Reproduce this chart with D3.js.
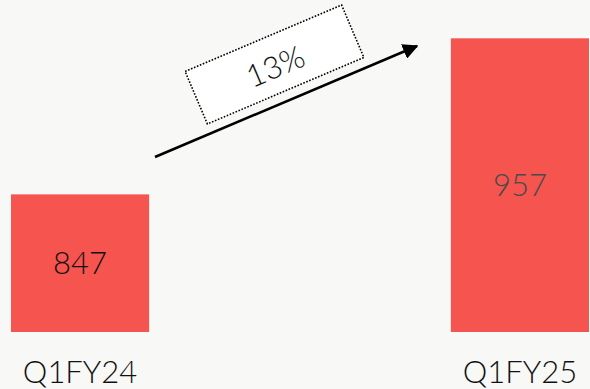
<!DOCTYPE html>
<html>
<head>
<meta charset="utf-8">
<script src="https://cdn.jsdelivr.net/npm/d3@7"></script>
<style>
  html, body { margin: 0; padding: 0; background: #f8f8f6; }
  svg { display: block; }
  text { font-family: Lato, "Open Sans", sans-serif; font-weight: 300; }
</style>
</head>
<body>
<div id="chart"></div>
<script>
// Quarterly values shown as two bars with a growth arrow between them
const categories = ["Q1FY24", "Q1FY25"];
const values = [847, 957];
const valueColors = ["#111111", "#4a4a4a"];
const growthLabel = "13%";

const width = 590;
const height = 389;

const svg = d3.select("#chart")
  .append("svg")
  .attr("width", width)
  .attr("height", height);

svg.append("rect")
  .attr("width", width)
  .attr("height", height)
  .attr("fill", "#f8f8f6");

const x = d3.scaleBand()
  .domain(categories)
  .range([11, 589])
  .paddingInner(0.686)
  .paddingOuter(0);

// axis does not start at zero in the original
const y = d3.scaleLinear()
  .domain([750, 984])
  .range([332, 0]);

svg.selectAll("rect.bar")
  .data(values)
  .join("rect")
  .attr("class", "bar")
  .attr("x", (d, i) => x(categories[i]))
  .attr("y", d => y(d))
  .attr("width", x.bandwidth())
  .attr("height", d => y(750) - y(d))
  .attr("fill", "#f5544f");

svg.selectAll("text.value")
  .data(values)
  .join("text")
  .attr("class", "value")
  .attr("x", (d, i) => x(categories[i]) + x.bandwidth() / 2)
  .attr("y", d => (y(d) + y(750)) / 2)
  .attr("dy", "0.36em")
  .attr("text-anchor", "middle")
  .attr("font-size", 31)
  .attr("fill", (d, i) => valueColors[i])
  .text(d => d);

svg.selectAll("text.cat")
  .data(categories)
  .join("text")
  .attr("class", "cat")
  .attr("x", d => x(d) + x.bandwidth() / 2)
  .attr("y", 383)
  .attr("text-anchor", "middle")
  .attr("font-size", 31)
  .attr("fill", "#111")
  .text(d => d);

// growth arrow + dotted label box
const defs = svg.append("defs");
defs.append("marker")
  .attr("id", "arrowhead")
  .attr("viewBox", "0 0 10 10")
  .attr("refX", 9)
  .attr("refY", 5)
  .attr("markerWidth", 6)
  .attr("markerHeight", 6)
  .attr("markerUnits", "strokeWidth")
  .attr("orient", "auto")
  .append("path")
  .attr("d", "M0,0 L10,5 L0,10 Z")
  .attr("fill", "#000");

svg.append("line")
  .attr("x1", 155)
  .attr("y1", 157)
  .attr("x2", 417)
  .attr("y2", 46)
  .attr("stroke", "#000")
  .attr("stroke-width", 2.6)
  .attr("marker-end", "url(#arrowhead)");

const angle = -23;
const labelG = svg.append("g")
  .attr("transform", `translate(274.5,64.5) rotate(${angle})`);

labelG.append("rect")
  .attr("x", -85)
  .attr("y", -28.5)
  .attr("width", 170)
  .attr("height", 57)
  .attr("fill", "#fff")
  .attr("stroke", "#000")
  .attr("stroke-width", 1.6)
  .attr("stroke-dasharray", "1.6,1.6");

labelG.append("text")
  .attr("x", 0)
  .attr("y", 2)
  .attr("dy", "0.36em")
  .attr("text-anchor", "middle")
  .attr("font-size", 31)
  .attr("fill", "#111")
  .text(growthLabel);
</script>
</body>
</html>
